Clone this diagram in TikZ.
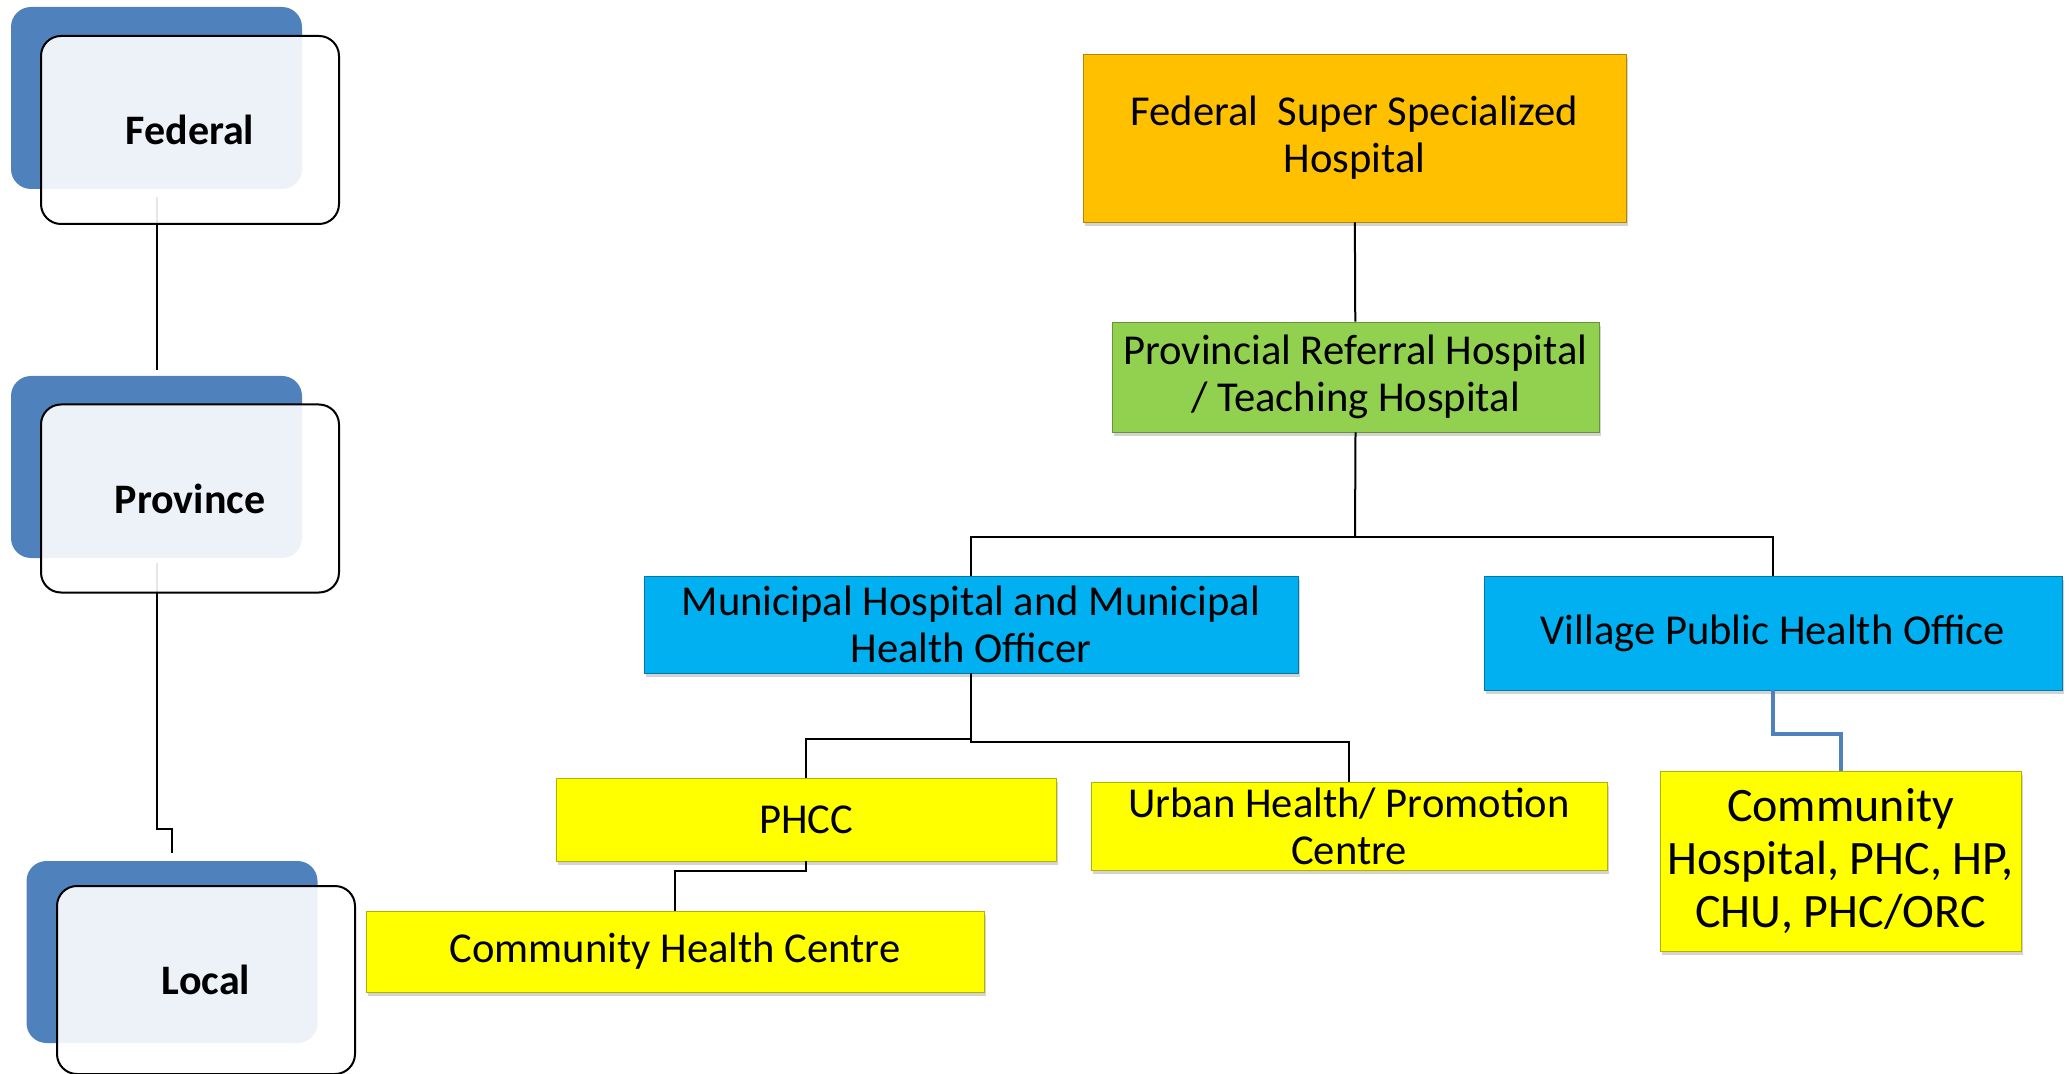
\documentclass[tikz,border=0pt]{standalone}
\usepackage{fontspec}
\setmainfont{Carlito}
\usepackage{tikz}
\usetikzlibrary{positioning}
\usetikzlibrary{calc}
\usetikzlibrary{shadows}

\definecolor{tierblue}{HTML}{4F81BD}
\definecolor{orgfill}{HTML}{FFC000}
\definecolor{grnfill}{HTML}{92D050}
\definecolor{cyanfill}{HTML}{00B0F0}
\definecolor{yelfill}{HTML}{FFFF00}

\begin{document}
\begin{tikzpicture}[x=0.5pt,y=0.5pt,yscale=-1,xscale=1,
    tierback/.style={fill=tierblue, rounded corners=10pt, inner sep=0pt, minimum width=145.5pt, minimum height=91pt},
    tierfront/.style={draw=black, line width=1pt, fill=white, fill opacity=0.9, text opacity=1, rounded corners=10pt, inner sep=0pt, minimum width=149pt, minimum height=94pt, font=\bfseries\fontsize{21}{25}\selectfont},
    unitbox/.style={draw=#1!70!black, fill=#1, line width=0.4pt, inner sep=0pt, align=center, font=\fontsize{21.3}{23.5}\selectfont, drop shadow={shadow xshift=0.8pt, shadow yshift=-1.8pt, opacity=0.35}},
    link/.style={line width=1pt},
    bluelink/.style={draw=tierblue, line width=2pt}
]
        \useasboundingbox (0,0) rectangle (2070,1074);

        %Shape: Rounded Rect [tier backs]
        \node [tierback] (fedback) at (156.5,98) {};
        \node [tierback] (provback) at (156.5,467) {};
        \node [tierback] (locback) at (172,952) {};

        %Straight Lines [tier links]
        \draw [link] ($(fedback.south)+(0,8)$) -- ($(provback.north)+(0,-6)$);
        \draw [link] ($(provback.south)+(0,5)$) -- ++(0,266) -| ($(locback.north)+(0,-8)$);

        %Shape: Rounded Rect [tier fronts]
        \node [tierfront] (fedfront) at (190,130) {Federal};
        \node [tierfront] (provfront) at (190,498.5) {Province};
        \node [tierfront] (locfront) at (206,980) {Local};

        % Text Node
        \node [unitbox=orgfill, minimum width=271.5pt, minimum height=84pt] (fssh) at (1354.5,138) {Federal~~Super Specialized\\Hospital};
        % Text Node
        \node [unitbox=grnfill, minimum width=243.5pt, minimum height=55pt] (prh) at (1355.5,377) {Provincial Referral Hospital\\/ Teaching Hospital};
        % Text Node
        \node [unitbox=cyanfill, minimum width=327pt, minimum height=48.5pt] (muni) at (971,624.5) {Municipal Hospital and Municipal\\Health Officer};
        % Text Node
        \node [unitbox=cyanfill, minimum width=289pt, minimum height=57pt] (vpho) at (1773,633) {Village Public Health Office};
        % Text Node
        \node [unitbox=yelfill, minimum width=250pt, minimum height=41.5pt] (phcc) at (806,819.5) {PHCC};
        % Text Node
        \node [unitbox=yelfill, minimum width=258pt, minimum height=44pt] (urban) at (1349,826) {Urban Health/ Promotion\\Centre};
        % Text Node
        \node [unitbox=yelfill, minimum width=309pt, minimum height=40.5pt] (chc) at (675,951.5) {Community Health Centre};
        % Text Node
        \node [unitbox=yelfill, minimum width=180.5pt, minimum height=90pt, font=\fontsize{24}{26.5}\selectfont] (comm) at (1840.5,861) {Community\\Hospital, PHC, HP,\\CHU, PHC/ORC};

        %Straight Lines [unit links]
        \coordinate (bar1) at (1355,537);
        \draw [link] (fssh) -- (prh);
        \draw [link] (prh.south) -- (bar1);
        \draw [link] (muni.north) |- (bar1) -| (vpho.north);
        \draw [link] (muni.south) -- ++(0,66) -| (phcc.north);
        \draw [link] (muni.south) -- ++(0,69) -| (urban.north);
        \draw [link] (phcc.south) -- ++(0,10) -| (chc.north);
        \draw [bluelink] (vpho.south) -- ++(0,44) -| (comm.north);
\end{tikzpicture}
\end{document}
